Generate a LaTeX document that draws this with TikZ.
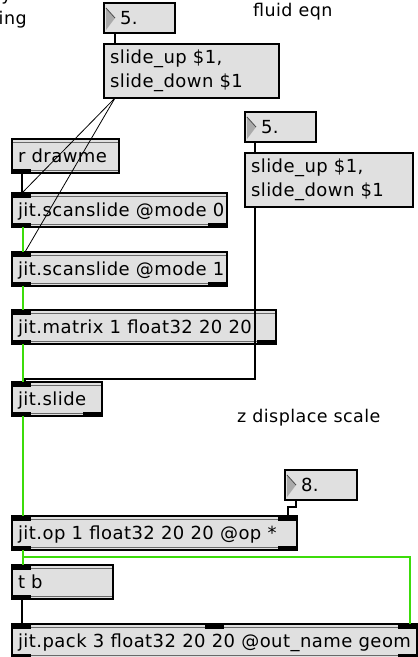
\documentclass[tikz,border=0pt]{standalone}
\usepackage{fontspec}
\newfontfamily\maxfont[LetterSpace=2.5]{DejaVu Sans}
\usetikzlibrary{calc}

\definecolor{boxfill}{RGB}{224,224,224}
\definecolor{stripgray}{RGB}{105,105,105}
\definecolor{cordgreen}{RGB}{60,220,10}
\definecolor{triangray}{RGB}{170,170,170}

\tikzset{
  patchbox/.style={draw=black, line width=1.2pt, fill=boxfill, rectangle,
    anchor=north west, outer sep=0pt, inner ysep=0pt, align=left,
    font=\maxfont\fontsize{18}{24}\selectfont},
  objbox/.style={patchbox, minimum height=34pt, inner xsep=6pt,
    text height=15pt, text depth=2pt},
  msgbox/.style={patchbox, minimum height=54pt, inner xsep=6pt},
  numbox/.style={patchbox, minimum height=30pt, inner xsep=16pt,
    text width=#1pt-32pt, text height=15pt, text depth=2pt},
  comment/.style={inner sep=0pt, font=\maxfont\fontsize{17.5}{20}\selectfont},
  stripline/.style={draw=stripgray, line width=0.9pt},
  cord/.style={draw=black, line width=1.1pt},
  thincord/.style={draw=black, line width=0.8pt},
  mcord/.style={draw=cordgreen, line width=1.8pt,
    preaction={draw=black!75, line width=2.6pt}},
}

% left-aligned single line of a given width (may run over, never wraps)
\newcommand{\lline}[2]{\makebox[#1pt][l]{#2}}
% inner strips of an object box
\newcommand{\objstrips}[1]{%
  \draw[stripline] ([yshift=-3pt]#1.north west) -- ([yshift=-3pt]#1.north east);
  \draw[stripline] ([yshift=3pt]#1.south west) -- ([yshift=3pt]#1.south east);
}
% inlet / outlet blocks, offsets from the left edge
\newcommand{\inlets}[2]{%
  \foreach \o in {#2} {\fill[black] ([xshift=\o pt]#1.north west) rectangle ++(19,4.5);}
}
\newcommand{\outlets}[2]{%
  \foreach \o in {#2} {\fill[black] ([xshift=\o pt]#1.south west) rectangle ++(19,-4.5);}
}
\newcommand{\reborder}[1]{%
  \draw[line width=1.2pt] (#1.north west) rectangle (#1.south east);
}
% number box arrow
\newcommand{\numarrow}[1]{%
  \fill[triangray] ([xshift=2pt,yshift=-5pt]#1.north west) -- ([xshift=11pt]#1.west)
    -- ([xshift=2pt,yshift=3pt]#1.south west) -- cycle;
  \draw[black!70, line width=0.8pt] ([xshift=2pt,yshift=-5pt]#1.north west) -- ([xshift=11pt]#1.west);
}

\begin{document}
\begin{tikzpicture}[x=1pt, y=-1pt]
\useasboundingbox (0,0) rectangle (418,657);
\clip (0,0) rectangle (418,657);

% comments
\node[comment, anchor=base east] (cutA) at (12,0) {y};
\node[comment, anchor=base west] (cutB) at (-1.5,24) {ing};
\node[comment, anchor=base west] (fluid) at (253,16) {fluid eqn};
\node[comment, anchor=base west] (zdisp) at (237,422) {z displace scale};

% number and message boxes
\node[numbox=71, minimum width=71pt] (num1) at (104,3) {5.};
\node[msgbox, minimum width=175pt, text width=163pt] (msg1) at (104,44) {slide\_up \$1,\\slide\_down \$1};
\node[numbox=71, minimum width=71pt] (num2) at (245,112) {5.};
\node[msgbox, minimum width=168pt, text width=156pt] (msg2) at (245,153) {slide\_up \$1,\\slide\_down \$1};
\node[numbox=72, minimum width=72pt] (num8) at (285,470) {8.};
\numarrow{num1}
\numarrow{num2}
\numarrow{num8}

% object boxes
\node[objbox, minimum width=107pt] (drawme) at (12,139) {\lline{95}{r drawme}};
\node[objbox, minimum width=215pt] (scan0) at (12,193) {\lline{203}{jit.scanslide @mode 0}};
\node[objbox, minimum width=215pt] (scan1) at (12,252) {\lline{203}{jit.scanslide @mode 1}};
\node[objbox, minimum width=264pt] (matrix) at (12,310) {\lline{252}{jit.matrix 1 float32 20 20}};
\node[objbox, minimum width=90pt] (slide) at (12,382) {\lline{78}{jit.slide}};
\node[objbox, minimum width=285pt] (op) at (12,516) {\lline{273}{jit.op 1 float32 20 20 @op *}};
\node[objbox, minimum width=101pt] (tb) at (12,565) {\lline{89}{t b}};
\node[objbox, minimum width=405pt] (pack) at (12,624) {\lline{393}{jit.pack 3 float32 20 20 @out\_name geom}};

\objstrips{drawme} \outlets{drawme}{0} \reborder{drawme}
\objstrips{scan0} \inlets{scan0}{0} \outlets{scan0}{0,196} \reborder{scan0}
\objstrips{scan1} \inlets{scan1}{0} \outlets{scan1}{0,196} \reborder{scan1}
\objstrips{matrix} \inlets{matrix}{0} \outlets{matrix}{0,245} \reborder{matrix}
\objstrips{slide} \inlets{slide}{0} \outlets{slide}{0,71} \reborder{slide}
\objstrips{op} \inlets{op}{0,266} \outlets{op}{0,266} \reborder{op}
\objstrips{tb} \inlets{tb}{0} \outlets{tb}{0} \reborder{tb}
\objstrips{pack} \inlets{pack}{0,193,386} \outlets{pack}{0,386} \reborder{pack}

% matrix connections
\draw[mcord] ([xshift=11pt]scan0.south west) -- ([xshift=11pt]scan1.north west);
\draw[mcord] ([xshift=11pt]scan1.south west) -- ([xshift=11pt]matrix.north west);
\draw[mcord] ([xshift=11pt]matrix.south west) -- ([xshift=11pt]slide.north west);
\draw[mcord] ([xshift=11pt]slide.south west) -- ([xshift=11pt]op.north west);
\draw[mcord] ([xshift=11pt]op.south west) -- ([xshift=11pt]tb.north west);
\draw[mcord] ([xshift=11pt]op.south west) -- ++(0,7) -| ([xshift=-7pt]pack.north east);

% message connections
\draw[cord] ([xshift=11pt]num1.south west) -- ([xshift=11pt]msg1.north west);
\draw[thincord] ([xshift=11pt]msg1.south west) -- ([xshift=10pt]scan0.north west);
\draw[thincord] ([xshift=11pt]msg1.south west) -- ([xshift=13pt]scan1.north west);
\draw[cord] ([xshift=10pt]num2.south west) -- ([xshift=10pt]msg2.north west);
\draw[cord] ([xshift=10pt]msg2.south west) |- ([xshift=13pt,yshift=3pt]slide.north west)
  -- ([xshift=13pt]slide.north west);
\draw[cord] ([xshift=10pt]drawme.south west) -- ([xshift=10pt]scan0.north west);
\draw[cord] ([xshift=10pt]tb.south west) -- ([xshift=10pt]pack.north west);
\draw[cord] ([xshift=11pt]num8.south west) -- ++(0,7) -| ([xshift=-9pt]op.north east);
\end{tikzpicture}
\end{document}
